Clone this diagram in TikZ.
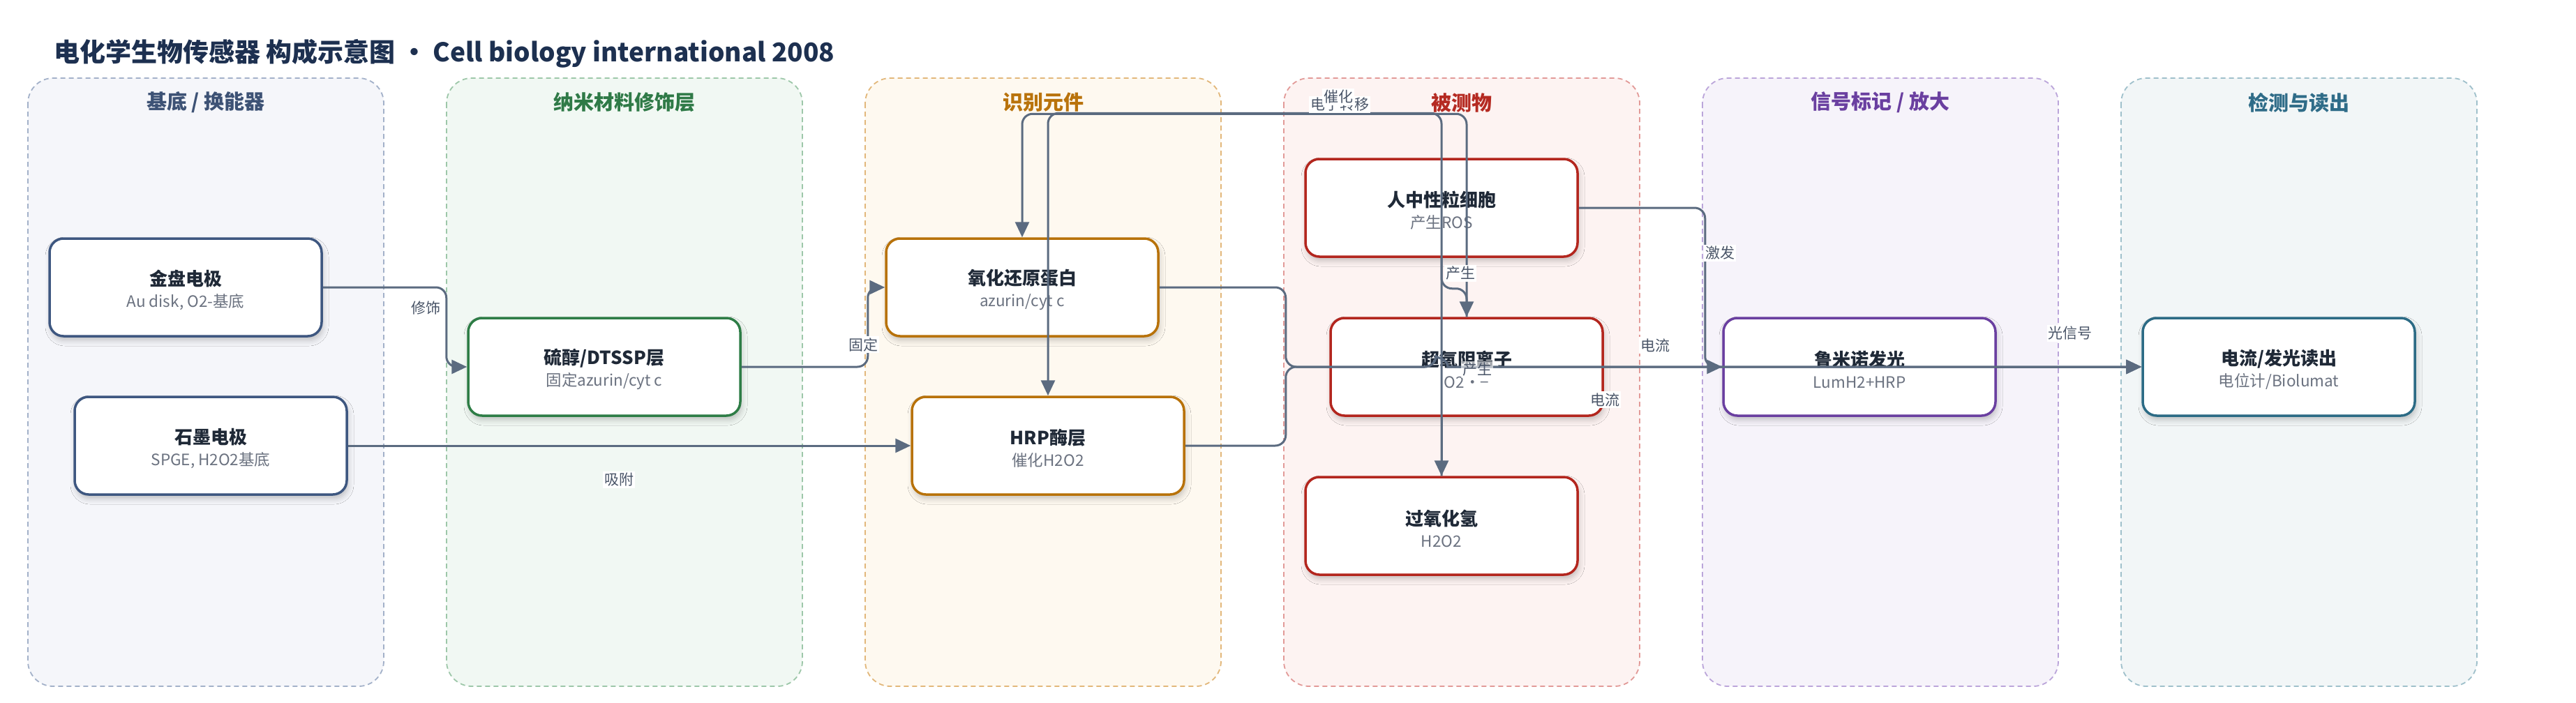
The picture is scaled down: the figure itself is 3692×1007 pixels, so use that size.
\documentclass[tikz,border=0pt]{standalone}
\usepackage{fontspec}
\setmainfont{Noto Sans CJK SC}
\usetikzlibrary{arrows.meta,shadows.blur,calc}
\definecolor{titlec}{HTML}{1D3050}
\definecolor{edgec}{HTML}{5B6B80}
\definecolor{labc}{HTML}{4A5568}
\definecolor{ttxt}{HTML}{1F2937}
\definecolor{stxt}{HTML}{6B7280}
\definecolor{fillA}{HTML}{F5F6FA}\definecolor{bdA}{HTML}{A3B1C9}\definecolor{hdA}{HTML}{3D5275}\definecolor{ndA}{HTML}{3E5780}
\definecolor{fillB}{HTML}{F1F8F3}\definecolor{bdB}{HTML}{9DC7A9}\definecolor{hdB}{HTML}{2F7A47}\definecolor{ndB}{HTML}{2E7D46}
\definecolor{fillC}{HTML}{FEF9F0}\definecolor{bdC}{HTML}{E2B77A}\definecolor{hdC}{HTML}{B9730C}\definecolor{ndC}{HTML}{B8720A}
\definecolor{fillD}{HTML}{FDF3F2}\definecolor{bdD}{HTML}{E29A98}\definecolor{hdD}{HTML}{B52A22}\definecolor{ndD}{HTML}{B3261E}
\definecolor{fillE}{HTML}{F6F3FA}\definecolor{bdE}{HTML}{BBA5DA}\definecolor{hdE}{HTML}{6A3FA0}\definecolor{ndE}{HTML}{6A3FA0}
\definecolor{fillF}{HTML}{F2F6F7}\definecolor{bdF}{HTML}{9FC0CB}\definecolor{hdF}{HTML}{2F6C88}\definecolor{ndF}{HTML}{2C6B85}
\newcommand{\twoline}[2]{\rule{0pt}{30pt}{\fontsize{26}{26}\selectfont\bfseries\color{ttxt}#1}\\{\color{stxt}#2}}
\tikzset{
  lanebox/.style={rounded corners=36pt, dash pattern=on 7pt off 5pt, line width=1.8pt},
  lanehead/.style={font=\fontsize{29}{29}\selectfont\bfseries},
  box/.style={draw, line width=3.5pt, rounded corners=20pt, fill=white,
    minimum width=390pt, minimum height=140pt, inner sep=0pt, align=center,
    font=\fontsize{22.5}{31}\selectfont,
    blur shadow={shadow xshift=2pt, shadow yshift=-6pt, shadow blur radius=8pt, shadow opacity=22}},
  edge/.style={draw=edgec, line width=3pt, rounded corners=15pt, -{Triangle[length=22pt,width=20pt]}},
  elabel/.style={fill=white, inner sep=2pt, text=labc, font=\fontsize{21}{21}\selectfont},
}
\begin{document}
\begin{tikzpicture}[x=1pt,y=-1pt]
\fill[white] (0,0) rectangle (3692,1007);
\useasboundingbox (0,0) rectangle (3692,1007);
\node[anchor=west, text=titlec, font=\fontsize{37}{37}\selectfont\bfseries, inner sep=0pt] (title) at (77,77) {电化学生物传感器 构成示意图 • Cell biology international 2008};
% lanes
\draw[lanebox, draw=bdA, fill=fillA] (40,112) rectangle (550,984);
\draw[lanebox, draw=bdB, fill=fillB] (640,112) rectangle (1150,984);
\draw[lanebox, draw=bdC, fill=fillC] (1240,112) rectangle (1750,984);
\draw[lanebox, draw=bdD, fill=fillD] (1840,112) rectangle (2350,984);
\draw[lanebox, draw=bdE, fill=fillE] (2440,112) rectangle (2950,984);
\draw[lanebox, draw=bdF, fill=fillF] (3040,112) rectangle (3550,984);
\node[lanehead, text=hdA] (hA) at (295,147) {基底 / 换能器};
\node[lanehead, text=hdB] (hB) at (895,147) {纳米材料修饰层};
\node[lanehead, text=hdC] (hC) at (1495,147) {识别元件};
\node[lanehead, text=hdD] (hD) at (2095,147) {被测物};
\node[lanehead, text=hdE] (hE) at (2695,147) {信号标记 / 放大};
\node[lanehead, text=hdF] (hF) at (3295,147) {检测与读出};
% nodes
\node[box, draw=ndA] (gold) at (266,412) {\twoline{金盘电极}{Au disk, O2-基底}};
\node[box, draw=ndA] (graph) at (302,639) {\twoline{石墨电极}{SPGE, H2O2基底}};
\node[box, draw=ndB] (dtssp) at (866,526) {\twoline{硫醇/DTSSP层}{固定azurin/cyt c}};
\node[box, draw=ndC] (redox) at (1465,412) {\twoline{氧化还原蛋白}{azurin/cyt c}};
\node[box, draw=ndC] (hrp) at (1502,639) {\twoline{HRP酶层}{催化H2O2}};
\node[box, draw=ndD] (neut) at (2066,298) {\twoline{人中性粒细胞}{产生ROS}};
\node[box, draw=ndD] (sup) at (2102,526) {\twoline{超氧阴离子}{O2・−}};
\node[box, draw=ndD] (hoo) at (2066,754) {\twoline{过氧化氢}{H2O2}};
\node[box, draw=ndE] (lum) at (2665,526) {\twoline{鲁米诺发光}{LumH2+HRP}};
\node[box, draw=ndF] (read) at (3266,526) {\twoline{电流/发光读出}{电位计/Biolumat}};
% edges
\coordinate (hop) at (hoo.north |- read.west);
\draw[edge] (gold.east) -- ++(177,0) |- (dtssp.west);
\draw[edge] (graph.east) -- (hrp.west);
\draw[edge] (dtssp.east) -- ++(181,0) |- (redox.west);
\draw[edge] (sup.north) -- ++(0,-291) -| (redox.north);
\draw[edge] (hoo.north) -- ++(0,-520) -| (hrp.north);
\draw[edge] (neut.south) -- ++(0,44) -| (sup.north);
\draw[edge] (sup.south -| hoo.north) -- (hoo.north);
\draw[edge] (neut.east) -- ++(181,0) |- (lum.west);
\draw[edge] (redox.east) -- ++(181,0) |- ($(hop)+(-9,0)$) [sharp corners] .. controls ($(hop)+(-8,-13)$) and ($(hop)+(8,-13)$) .. ($(hop)+(9,0)$) -- (read.west);
\draw[edge] (hrp.east) -- ++(144,0) |- ($(hop)+(-9,0)$) [sharp corners] .. controls ($(hop)+(-8,-13)$) and ($(hop)+(8,-13)$) .. ($(hop)+(9,0)$) -- (read.west);
\draw[edge] (lum.east) -- (read.west);
% labels
\node[elabel] (l1) at (610,442) {修饰};
\node[elabel] (l2) at (887,688) {吸附};
\node[elabel] (l3) at (1237,494) {固定};
\node[elabel] (l4) at (1920,150) {电子转移};
\node[elabel] (l5) at (1918,139) {催化};
\node[elabel] (l6) at (2093,392) {产生};
\node[elabel, fill opacity=0.6, text opacity=1] (l7) at (2117,530) {产生};
\node[elabel] (l8) at (2465,363) {激发};
\node[elabel] (l9) at (2372,495) {电流};
\node[elabel] (l10) at (2300,573) {电流};
\node[elabel] (l11) at (2967,478) {光信号};
\end{tikzpicture}
\end{document}
